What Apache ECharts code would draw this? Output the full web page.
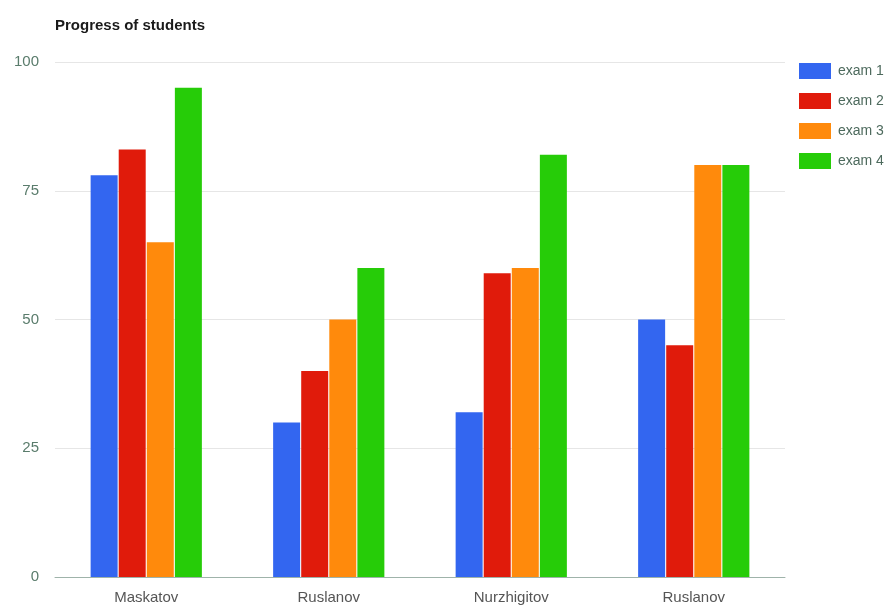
<!DOCTYPE html>
<html>
<head>
<meta charset="utf-8">
<script src="https://cdn.jsdelivr.net/npm/echarts@6/dist/echarts.min.js"></script>
<style>html,body{margin:0;padding:0;background:#fff}#c{width:891px;height:607px}</style>
</head>
<body>
<div id="c"></div>
<script>
const categories = ['Maskatov', 'Ruslanov', 'Nurzhigitov', 'Ruslanov'];
const seriesNames = ['exam 1', 'exam 2', 'exam 3', 'exam 4'];
const exam1 = [78, 30, 32, 50];
const exam2 = [83, 40, 59, 45];
const exam3 = [65, 50, 60, 80];
const exam4 = [95, 60, 82, 80];
const yTicks = [0, 25, 50, 75, 100];

const colors = ['#3366f0', '#e01b0b', '#ff8a0c', '#26cc08'];
const values = [exam1, exam2, exam3, exam4];
const FONT = 'Liberation Sans, Arial, sans-serif';

const chart = echarts.init(document.getElementById('c'), null, {renderer: 'canvas'});
chart.setOption({
  animation: false,
  backgroundColor: '#ffffff',
  textStyle: {fontFamily: FONT},
  title: {
    text: 'Progress of students',
    left: 55, top: 18, padding: 0,
    textStyle: {fontSize: 15, fontWeight: 'bold', color: '#1a1a1a', fontFamily: FONT}
  },
  legend: {
    data: seriesNames,
    orient: 'vertical',
    left: 799, top: 63, padding: 0,
    itemWidth: 32, itemHeight: 16, itemGap: 14,
    icon: 'rect',
    textStyle: {fontSize: 14, color: '#4d6a5d', padding: [0, 0, 0, 2]}
  },
  grid: {left: 55, right: 106, top: 62, bottom: 30, containLabel: false},
  xAxis: {
    type: 'category',
    data: categories,
    axisTick: {show: false},
    axisLine: {show: true, lineStyle: {color: '#9fb3aa', width: 1}},
    axisLabel: {fontSize: 15, color: '#555', margin: 13}
  },
  yAxis: {
    type: 'value',
    min: yTicks[0], max: yTicks[yTicks.length - 1], interval: 25,
    axisLine: {show: false},
    axisTick: {show: false},
    splitLine: {lineStyle: {color: '#e6e6e6', width: 1}},
    axisLabel: {fontSize: 15, color: '#5a7c6c', margin: 16}
  },
  series: seriesNames.map((name, i) => ({
    name: name,
    type: 'bar',
    data: values[i],
    barWidth: 27,
    barGap: '4%',
    itemStyle: {color: colors[i]}
  }))
});
</script>
</body>
</html>
